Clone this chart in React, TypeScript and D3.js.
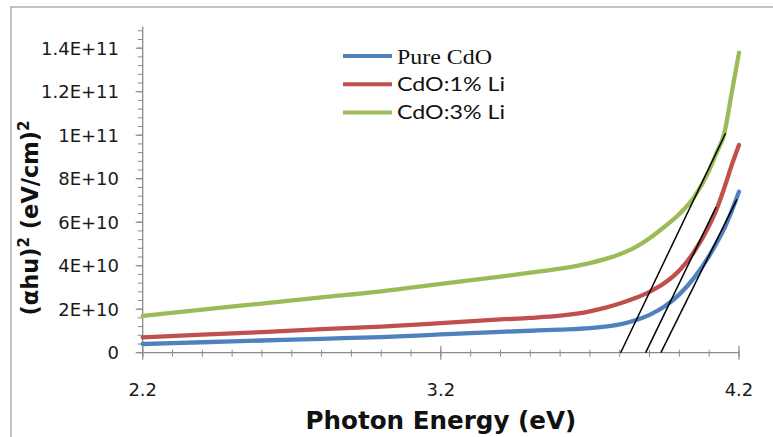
import React from "react";
import * as d3 from "d3";

// Photon energy (eV) sample points shared by the three series
const energy = [2.2, 2.4, 2.6, 2.8, 3.0, 3.2, 3.4, 3.5, 3.6, 3.7, 3.75, 3.8, 3.85, 3.9, 3.95, 4.0, 4.05, 4.1, 4.125, 4.15, 4.175, 4.2];

// (αhν)² values in units of 1E+9 (eV/cm)²
const pureCdO = [4.0, 4.8, 5.6, 6.4, 7.2, 8.4, 9.6, 10.1, 10.6, 11.3, 12.0, 13.0, 14.8, 17.4, 21.2, 26.8, 34.5, 44.5, 50.5, 57.0, 65.0, 74.0];
const cdo1Li = [7.0, 8.3, 9.5, 10.8, 12.0, 13.6, 15.3, 16.0, 17.0, 19.0, 20.6, 22.6, 25.0, 28.0, 32.0, 37.8, 46.5, 58.5, 66.0, 75.5, 86.0, 95.5];
const cdo3Li = [16.9, 19.8, 22.6, 25.4, 28.2, 31.6, 35.0, 36.8, 38.6, 41.2, 43.0, 45.3, 48.3, 52.6, 57.9, 63.8, 71.6, 83.8, 92.0, 100.5, 119.0, 138.0];

// Linear extrapolations to the energy axis: [x0, y0, x1, y1] (y in 1E+9)
const tangents = [
  [3.803, 0, 4.155, 100.9],
  [3.887, 0, 4.123, 66.9],
  [3.938, 0, 4.193, 70.5],
];

const seriesNames = ["Pure CdO", "CdO:1% Li", "CdO:3% Li"];
const seriesColors = ["#4f81bd", "#c0504d", "#9bbb59"];
const seriesValues = [pureCdO, cdo1Li, cdo3Li];

const yTicks = [0, 2e10, 4e10, 6e10, 8e10, 1e11, 1.2e11, 1.4e11];
const yTickLabels = ["0", "2E+10", "4E+10", "6E+10", "8E+10", "1E+11", "1.2E+11", "1.4E+11"];
const xTicks = [2.2, 3.2, 4.2];
const xTickLabels = ["2.2", "3.2", "4.2"];

export default function App() {
  const W = 773;
  const H = 437;
  const x = d3.scaleLinear().domain([2.2, 4.2]).range([142.7, 739]);
  const y = d3.scaleLinear().domain([0, 1.5e11]).range([352.7, 26.45]);

  const line = d3
    .line<[number, number]>()
    .x((d) => x(d[0]))
    .y((d) => y(d[1] * 1e9))
    .curve(d3.curveMonotoneX);

  const xMinor = d3.range(0, 21).map((i) => 2.2 + i * 0.1);
  const yMinor = d3.range(0, 38).map((i) => i * 4e9);

  const axisColor = "#8c8c8c";
  const tickFont = "'DejaVu Sans', sans-serif";

  return (
    <svg
      width={W}
      height={H}
      style={{ position: "absolute", left: 0, top: 0, background: "#fff" }}
    >
      <rect x={0} y={0} width={W} height={H} fill="#fff" />
      {/* chart frame */}
      <rect x={11} y={7} width={W + 20} height={H + 20} fill="none" stroke="#b4b4b4" strokeWidth={1.6} />

      {/* y axis */}
      <line x1={x(2.2)} x2={x(2.2)} y1={y(1.5e11)} y2={y(0) + 4} stroke={axisColor} strokeWidth={1.3} />
      {yMinor.map((v, i) => (
        <line key={"ym" + i} x1={x(2.2) - 5} x2={x(2.2)} y1={y(v)} y2={y(v)} stroke={axisColor} strokeWidth={1} />
      ))}
      {yTicks.map((v, i) => (
        <g key={"yt" + i}>
          <line x1={x(2.2) - 7} x2={x(2.2)} y1={y(v)} y2={y(v)} stroke={axisColor} strokeWidth={1.2} />
          <text
            x={119}
            y={y(v)}
            dy="0.36em"
            textAnchor="end"
            fontFamily={tickFont}
            fontSize={18}
            fill="#1a1a1a"
          >
            {yTickLabels[i]}
          </text>
        </g>
      ))}

      {/* x axis */}
      <line x1={x(2.2)} x2={x(4.2)} y1={y(0)} y2={y(0)} stroke={axisColor} strokeWidth={1.3} />
      {xMinor.map((v, i) => (
        <line key={"xm" + i} x1={x(v)} x2={x(v)} y1={y(0) - 3} y2={y(0) + 4} stroke={axisColor} strokeWidth={1} />
      ))}
      {xTicks.map((v, i) => (
        <g key={"xt" + i}>
          <line x1={x(v)} x2={x(v)} y1={y(0) - 7} y2={y(0) + 7} stroke={axisColor} strokeWidth={1.2} />
          <text x={x(v)} y={396} textAnchor="middle" fontFamily={tickFont} fontSize={18} fill="#1a1a1a">
            {xTickLabels[i]}
          </text>
        </g>
      ))}

      {/* series */}
      {seriesValues.map((vals, s) => (
        <path
          key={"s" + s}
          d={line(energy.map((e, i) => [e, vals[i]] as [number, number])) || ""}
          fill="none"
          stroke={seriesColors[s]}
          strokeWidth={4.3}
          strokeLinejoin="round"
          strokeLinecap="round"
        />
      ))}

      {/* band-gap extrapolation lines */}
      {tangents.map((t, i) => (
        <line
          key={"tg" + i}
          x1={x(t[0])}
          y1={y(t[1] * 1e9)}
          x2={x(t[2])}
          y2={y(t[3] * 1e9)}
          stroke="#000"
          strokeWidth={1.5}
        />
      ))}

      {/* legend */}
      {seriesNames.map((name, i) => (
        <g key={"lg" + i}>
          <line x1={343} x2={392} y1={56 + i * 28.3} y2={56 + i * 28.3} stroke={seriesColors[i]} strokeWidth={4} />
          <text
            x={397}
            y={63.5 + i * 27.5}
            fontFamily={i === 0 ? "'Liberation Serif', serif" : "Lato, sans-serif"}
            fontSize={i === 0 ? 22 : 20}
            textLength={i === 0 ? 95 : 108}
            lengthAdjust="spacingAndGlyphs"
            fill="#111"
          >
            {name}
          </text>
        </g>
      ))}

      {/* axis titles */}
      <text
        x={(142.7 + 739) / 2}
        y={428.5}
        textAnchor="middle"
        fontFamily="'DejaVu Sans', sans-serif"
        fontWeight="bold"
        fontSize={24.6}
        fill="#111"
      >
        Photon Energy (eV)
      </text>
      <text
        transform="translate(38, 218) rotate(-90)"
        textAnchor="middle"
        fontFamily="'DejaVu Sans', sans-serif"
        fontWeight="bold"
        fontSize={22.5}
        fill="#111"
      >
        (αhu)
        <tspan dy={-9} fontSize={15}>2</tspan>
        <tspan dy={9}> (eV/cm)</tspan>
        <tspan dy={-9} fontSize={15}>2</tspan>
      </text>
    </svg>
  );
}
